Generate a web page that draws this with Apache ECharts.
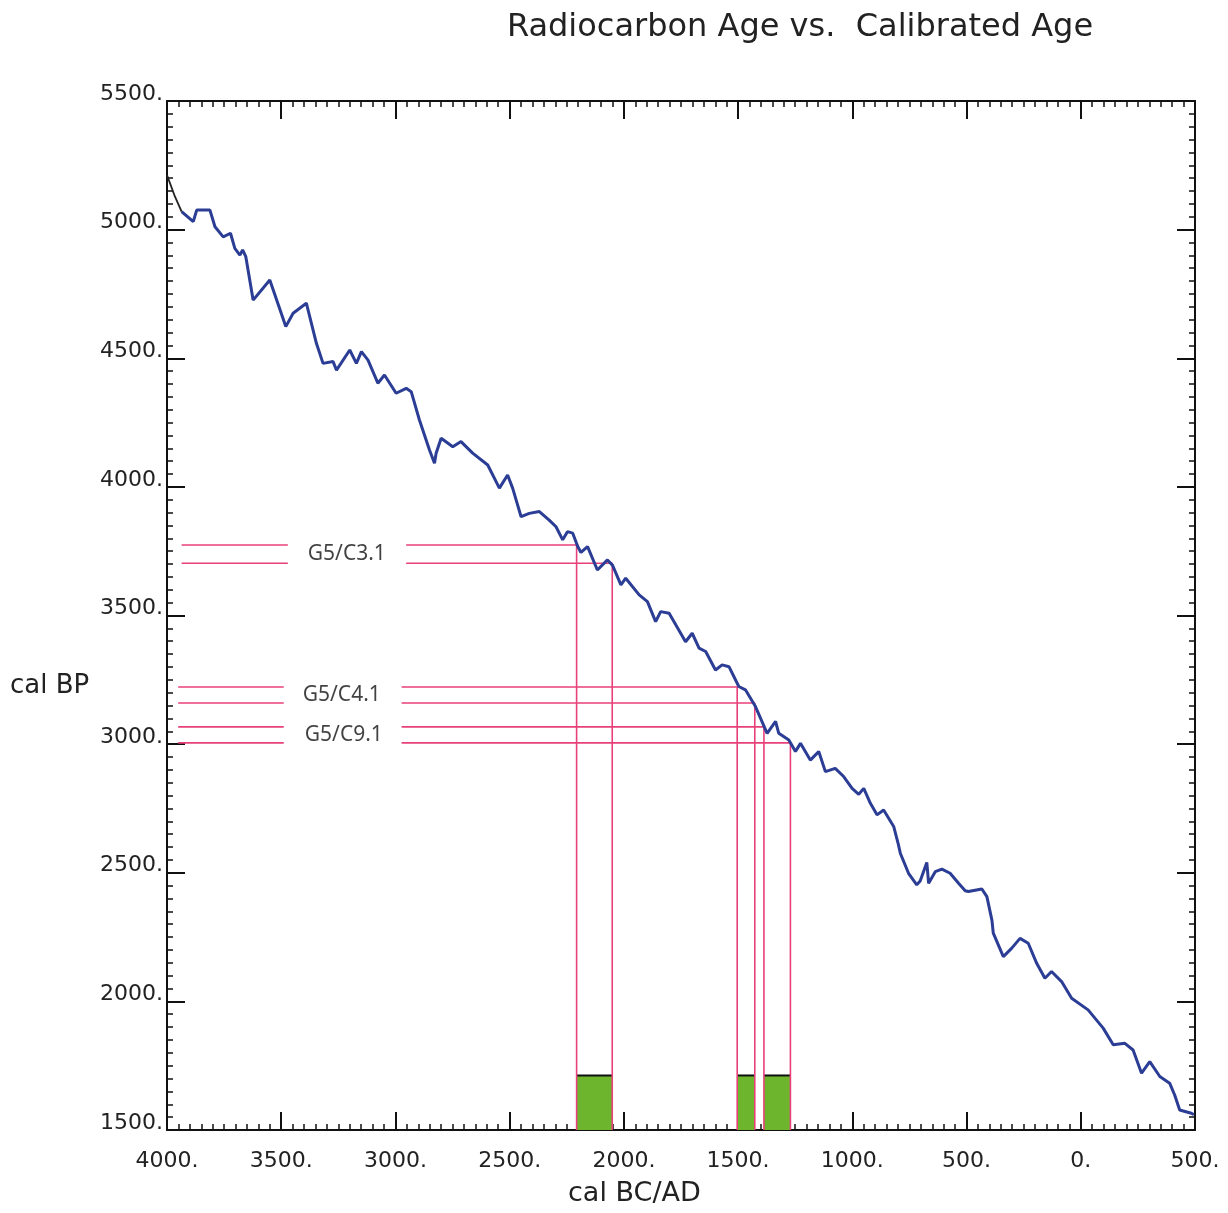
<!DOCTYPE html>
<html>
<head>
<meta charset="utf-8">
<title>Radiocarbon Age vs. Calibrated Age</title>
<script src="https://cdn.jsdelivr.net/npm/echarts@6/dist/echarts.min.js"></script>
<style>
	html, body { margin: 0; padding: 0; background: #fff; }
	#chart { width: 1228px; height: 1213px; }
</style>
</head>
<body>
<div id="chart"></div>
<script>
// calibration curve (BC negative, AD positive)
const curveYears = [
	-4000, -3965, -3936, -3885, -3870, -3812, -3790, -3754, -3722, -3703, -3681, -3669, -3655, -3623, -3550,
	-3480, -3448, -3390, -3346, -3317, -3273, -3258, -3200, -3171, -3149, -3120, -3077, -3048, -2997, -2953,
	-2931, -2895, -2851, -2829, -2822, -2800, -2749, -2713, -2662, -2596, -2545, -2509, -2487, -2450, -2414,
	-2370, -2327, -2297, -2268, -2247, -2224, -2202, -2188, -2159, -2116, -2072, -2050, -2013, -1992, -1933,
	-1897, -1861, -1839, -1802, -1730, -1701, -1671, -1642, -1599, -1570, -1540, -1497, -1468, -1424, -1373,
	-1336, -1322, -1278, -1249, -1227, -1184, -1147, -1118, -1075, -1038, -1001, -972, -950, -921, -892,
	-863, -819, -798, -790, -754, -718, -703, -674, -666, -637, -608, -572, -535, -506, -492,
	-433, -411, -389, -383, -339, -302, -266, -230, -193, -157, -128, -84, -40, 32, 98,
	142, 193, 229, 266, 302, 346, 389, 411, 433, 484, 495
];
const curveBP = [
	5212, 5128, 5070, 5031, 5076, 5076, 5011, 4972, 4986, 4927, 4901, 4921, 4895, 4726, 4804,
	4623, 4675, 4714, 4558, 4480, 4487, 4454, 4532, 4480, 4526, 4493, 4403, 4435, 4364, 4383,
	4370, 4260, 4143, 4092, 4131, 4189, 4156, 4176, 4131, 4085, 3995, 4046, 3995, 3884, 3897,
	3904, 3871, 3845, 3794, 3826, 3820, 3768, 3745, 3768, 3677, 3716, 3696, 3619, 3645, 3580,
	3554, 3476, 3515, 3509, 3398, 3431, 3373, 3360, 3288, 3308, 3301, 3224, 3211, 3146, 3042,
	3088, 3042, 3016, 2971, 3003, 2938, 2971, 2893, 2906, 2874, 2828, 2805, 2828, 2770, 2725,
	2744, 2680, 2608, 2576, 2498, 2453, 2468, 2540, 2459, 2504, 2514, 2498, 2459, 2430, 2427,
	2437, 2407, 2316, 2265, 2174, 2207, 2245, 2226, 2148, 2090, 2116, 2077, 2012, 1967, 1896,
	1831, 1837, 1811, 1721, 1766, 1708, 1682, 1636, 1578, 1565, 1560
];
const blackEnd = 3; // first points of the curve are drawn in black

// samples: radiocarbon range and calibrated range
const sampleNames = ["G5/C3.1", "G5/C4.1", "G5/C9.1"];
const bpOld = [3774, 3222, 3067];
const bpYoung = [3703, 3160, 3005];
const calOld = [-2207, -1504, -1387];
const calYoung = [-2051, -1427, -1271];
const leftFrom = [-3936, -3951, -3951];
const leftTo = [-3471, -3489, -3489];
const rightFrom = [-2953, -2973, -2973];
const labelYear = [-3213, -3235, -3226];
const barTop = 1712;

const yMin = 1500;
const pink = "#e8407a";

const curve = curveYears.map((x, i) => [x, curveBP[i]]);

const series = [];

// green bars (calibrated ranges)
for (let i = 0; i < sampleNames.length; i++) {
	series.push({
		type: "line",
		silent: true,
		symbol: "none",
		z: 2,
		lineStyle: { color: "#111", width: 2 },
		areaStyle: { color: "#6cb52d", opacity: 1, origin: "start" },
		data: [
			[calOld[i], barTop],
			[calYoung[i], barTop]
		]
	});
}

// pink reading lines
const pinkLine = data => ({
	type: "line",
	silent: true,
	symbol: "none",
	z: 3,
	lineStyle: { color: pink, width: 1.6 },
	data: data
});
for (let i = 0; i < sampleNames.length; i++) {
	[
		[bpOld[i], calOld[i]],
		[bpYoung[i], calYoung[i]]
	].forEach(([bp, cal]) => {
		series.push(pinkLine([[leftFrom[i], bp], [leftTo[i], bp]]));
		series.push(pinkLine([[rightFrom[i], bp], [cal, bp], [cal, yMin]]));
	});
}

// curve
series.push({
	type: "line",
	silent: true,
	symbol: "none",
	z: 4,
	lineStyle: { color: "#2b3d94", width: 3 },
	data: curve.slice(blackEnd - 1)
});
series.push({
	type: "line",
	silent: true,
	symbol: "none",
	z: 4,
	lineStyle: { color: "#222", width: 1.8 },
	data: curve.slice(0, blackEnd)
});

// sample labels
series.push({
	type: "scatter",
	silent: true,
	symbolSize: 0,
	z: 5,
	label: {
		show: true,
		position: "inside",
		formatter: "{b}",
		fontFamily: "Noto Sans",
		fontSize: 21,
		color: "#111"
	},
	data: sampleNames.map((n, i) => ({ name: n, value: [labelYear[i], (bpOld[i] + bpYoung[i]) / 2] }))
});

const axisBase = {
	type: "value",
	axisLine: { show: true, onZero: false, lineStyle: { color: "#111", width: 2 } },
	axisTick: { show: true, inside: true, length: 18, lineStyle: { color: "#111", width: 2 } },
	minorTick: { show: true, splitNumber: 10, length: 6, lineStyle: { color: "#111", width: 1.5 } },
	splitLine: { show: false }
};
const labelFont = { fontFamily: "DejaVu Sans", fontSize: 22, color: "#222" };

const option = {
	backgroundColor: "#fff",
	animation: false,
	title: {
		text: "Radiocarbon Age vs.  Calibrated Age",
		left: 795,
		top: 7,
		textAlign: "center",
		textStyle: { fontFamily: "DejaVu Sans", fontSize: 32, fontWeight: "normal", color: "#222" }
	},
	grid: { left: 167, right: 33, top: 101, bottom: 83, containLabel: false },
	xAxis: [
		{
			...axisBase,
			position: "bottom",
			min: -4000,
			max: 500,
			interval: 500,
			axisLabel: { ...labelFont, margin: 20, formatter: v => Math.abs(v) + "." }
		},
		{
			...axisBase,
			position: "top",
			min: -4000,
			max: 500,
			interval: 500,
			axisLabel: { show: false }
		}
	],
	yAxis: [
		{
			...axisBase,
			position: "left",
			min: 1500,
			max: 5500,
			interval: 500,
			axisLabel: { ...labelFont, margin: 4, verticalAlign: "bottom", lineHeight: 14, formatter: v => v + "." }
		},
		{
			...axisBase,
			position: "right",
			min: 1500,
			max: 5500,
			interval: 500,
			axisLabel: { show: false }
		}
	],
	graphic: [
		{
			type: "text",
			left: 10,
			top: 673,
			style: { text: "cal BP", fontFamily: "DejaVu Sans", fontSize: 26, fill: "#222" }
		},
		{
			type: "text",
			left: 568,
			top: 1180,
			style: { text: "cal BC/AD", fontFamily: "DejaVu Sans", fontSize: 27, fill: "#222" }
		}
	],
	series: series
};

const myChart = echarts.init(document.getElementById("chart"));
myChart.setOption(option);
</script>
</body>
</html>
